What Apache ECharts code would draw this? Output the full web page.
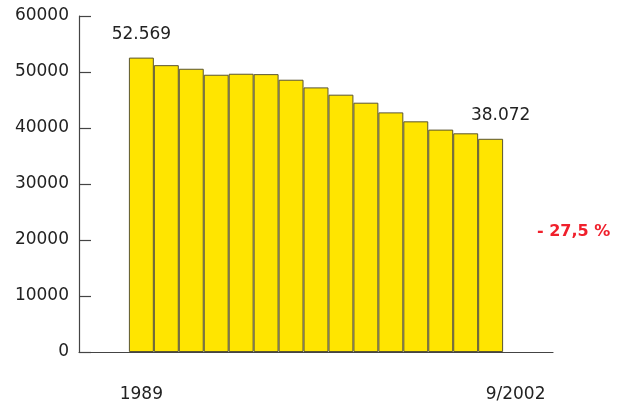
<!DOCTYPE html>
<html>
<head>
<meta charset="utf-8">
<script src="https://cdn.jsdelivr.net/npm/echarts@6/dist/echarts.min.js"></script>
<style>html,body{margin:0;padding:0;background:#fff}#c{width:623px;height:404px}</style>
</head>
<body>
<div id="c"></div>
<script>
// Categories (padding slots around the bars keep the bars away from the axis ends)
const categories = ['', '', '1989', '1990', '1991', '1992', '1993', '1994', '1995', '1996', '1997', '1998', '1999', '2000', '2001', '2002', '9/2002', '', ''];
const shownLabels = ['1989', '9/2002'];
const values = [null, null, 52569, 51220, 50580, 49510, 49690, 49620, 48620, 47250, 45950, 44520, 42790, 41190, 39710, 39050, 38072, null, null];
const labelledIdx = [2, 16];
const yTicks = [0, 10000, 20000, 30000, 40000, 50000, 60000];
const changeText = '- 27,5 %';

const font = 'DejaVu Sans';
const toDe = v => String(v).replace(/\B(?=(\d{3})+(?!\d))/g, '.');

const seriesData = values.map((v, i) => {
  if (labelledIdx.includes(i)) {
    return {
      value: v,
      label: {
        show: true, position: 'top', distance: 15,
        offset: i === labelledIdx[1] ? [10, 0] : [0, 0],
        formatter: p => toDe(p.value),
        fontFamily: font, fontSize: 17, color: '#222'
      }
    };
  }
  return v;
});

// x labels: '1989' under first bar, '9/2002' one slot right of the last bar
const xLabelCats = categories.map((c, i) => (i === 2 ? shownLabels[0] : (i === 17 ? shownLabels[1] : '')));

const chart = echarts.init(document.getElementById('c'), null, {renderer: 'canvas'});
chart.setOption({
  animation: false,
  backgroundColor: '#fff',
  title: {
    text: changeText, left: 537, top: 224, padding: 0,
    textStyle: {fontFamily: font, fontSize: 16, fontWeight: 'bold', color: '#f0202c'}
  },
  grid: {left: 79, right: 70, top: 16, bottom: 52, containLabel: false},
  xAxis: {
    type: 'category',
    data: xLabelCats,
    boundaryGap: true,
    axisLine: {lineStyle: {color: '#444', width: 1.2}},
    axisTick: {show: false},
    axisLabel: {interval: 0, margin: 34, fontFamily: font, fontSize: 17, color: '#222'}
  },
  yAxis: {
    type: 'value', min: yTicks[0], max: yTicks[yTicks.length - 1], interval: 10000,
    axisLine: {show: true, lineStyle: {color: '#444', width: 1.2}},
    axisTick: {show: true, inside: true, length: 12, lineStyle: {color: '#444', width: 1.2}},
    axisLabel: {margin: 10, fontFamily: font, fontSize: 17, color: '#222', formatter: v => String(v)},
    splitLine: {show: false}
  },
  series: [{
    type: 'bar',
    data: seriesData,
    barCategoryGap: '0%',
    itemStyle: {color: '#ffe500', borderColor: '#5a5430', borderWidth: 1}
  }]
});
</script>
</body>
</html>
